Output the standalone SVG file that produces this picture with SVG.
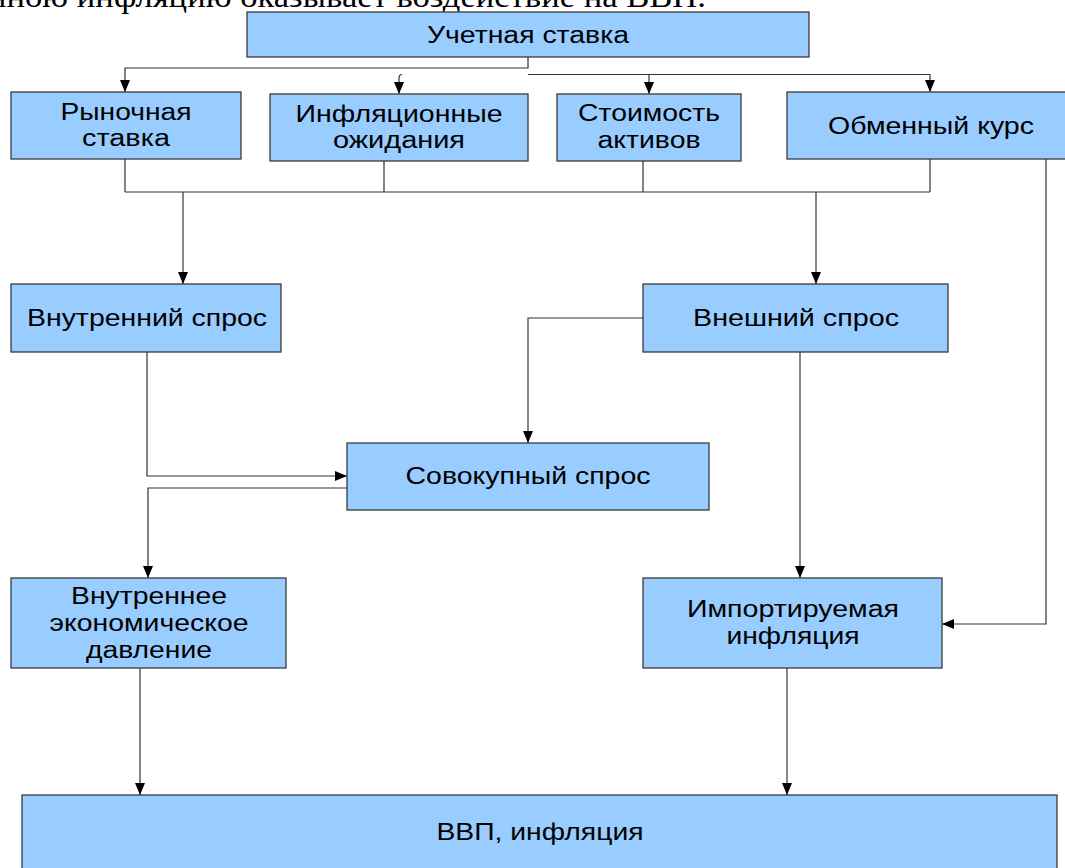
<svg xmlns="http://www.w3.org/2000/svg" width="1065" height="868" viewBox="0 0 1065 868">
<style>
.box{fill:#99ccff;stroke:#3a3a3a;stroke-width:1.3}
.t{font-family:"Liberation Sans",Arial,sans-serif;font-size:23px;fill:#000;text-anchor:middle}
.c{fill:none;stroke:#333;stroke-width:1.2}
.a{marker-end:url(#arr)}
</style>
<defs>
<marker id="arr" markerUnits="userSpaceOnUse" markerWidth="12" markerHeight="10" refX="12" refY="5" orient="auto">
<path d="M0,0 L12,5 L0,10 z" fill="#000"/>
</marker>
</defs>
<rect width="1065" height="868" fill="#fff"/>
<text x="-12" y="7" font-family="'Liberation Serif','Times New Roman',serif" font-size="32" textLength="718" lengthAdjust="spacingAndGlyphs">нною инфляцию оказывает воздействие на ВВП.</text>

<g id="connectors">
<path class="c a" d="M528,57 V68 H125 V92"/>
<path class="c a" d="M528,74.5 H930 V92"/>
<path class="c a" d="M649,74.5 V94"/>
<path class="c a" d="M402,74.5 Q399,74.5 399,78 V94"/>
<path class="c" d="M125,159 V192 M384,161 V192 M643,161 V192 M930,159 V192 M125,192 H930"/>
<path class="c a" d="M183,192 V284"/>
<path class="c a" d="M816,192 V284"/>
<path class="c a" d="M1046,159 V624 H942"/>
<path class="c a" d="M147,352 V476 H347"/>
<path class="c a" d="M643,318 H528 V443"/>
<path class="c a" d="M347,488 H148 V578"/>
<path class="c a" d="M800,352 V578"/>
<path class="c a" d="M140,668 V795"/>
<path class="c a" d="M787,668 V795"/>
</g>

<g id="uchetnaya">
<rect class="box" x="247" y="12" width="562" height="45"/>
<text class="t" x="528" y="43" textLength="202" lengthAdjust="spacingAndGlyphs">Учетная ставка</text>
</g>
<g id="rynochnaya">
<rect class="box" x="11" y="92" width="230" height="67"/>
<text class="t" x="126" y="120" textLength="131" lengthAdjust="spacingAndGlyphs">Рыночная</text>
<text class="t" x="126" y="146" textLength="88" lengthAdjust="spacingAndGlyphs">ставка</text>
</g>
<g id="inflexp">
<rect class="box" x="270" y="94" width="258" height="67"/>
<text class="t" x="399" y="122" textLength="207" lengthAdjust="spacingAndGlyphs">Инфляционные</text>
<text class="t" x="399" y="148" textLength="132" lengthAdjust="spacingAndGlyphs">ожидания</text>
</g>
<g id="stoimost">
<rect class="box" x="557" y="94" width="184" height="67"/>
<text class="t" x="649" y="121" textLength="142" lengthAdjust="spacingAndGlyphs">Стоимость</text>
<text class="t" x="649" y="148" textLength="103" lengthAdjust="spacingAndGlyphs">активов</text>
</g>
<g id="obmenny">
<rect class="box" x="787" y="92" width="290" height="67"/>
<text class="t" x="931" y="134" textLength="206" lengthAdjust="spacingAndGlyphs">Обменный курс</text>
</g>
<g id="vnutr">
<rect class="box" x="11" y="284" width="270" height="68"/>
<text class="t" x="147" y="326" textLength="240" lengthAdjust="spacingAndGlyphs">Внутренний спрос</text>
</g>
<g id="vneshn">
<rect class="box" x="643" y="284" width="305" height="68"/>
<text class="t" x="796" y="326" textLength="206" lengthAdjust="spacingAndGlyphs">Внешний спрос</text>
</g>
<g id="sovok">
<rect class="box" x="347" y="443" width="362" height="67"/>
<text class="t" x="528" y="484" textLength="245" lengthAdjust="spacingAndGlyphs">Совокупный спрос</text>
</g>
<g id="davlenie">
<rect class="box" x="11" y="578" width="275" height="90"/>
<text class="t" x="149" y="604" textLength="156" lengthAdjust="spacingAndGlyphs">Внутреннее</text>
<text class="t" x="149" y="631" textLength="199" lengthAdjust="spacingAndGlyphs">экономическое</text>
<text class="t" x="149" y="658" textLength="126" lengthAdjust="spacingAndGlyphs">давление</text>
</g>
<g id="import">
<rect class="box" x="643" y="578" width="299" height="90"/>
<text class="t" x="793" y="617" textLength="212" lengthAdjust="spacingAndGlyphs">Импортируемая</text>
<text class="t" x="793" y="644" textLength="133" lengthAdjust="spacingAndGlyphs">инфляция</text>
</g>
<g id="vvp">
<rect class="box" x="22" y="795" width="1035" height="90"/>
<text class="t" x="540" y="840" textLength="207" lengthAdjust="spacingAndGlyphs">ВВП, инфляция</text>
</g>
</svg>
